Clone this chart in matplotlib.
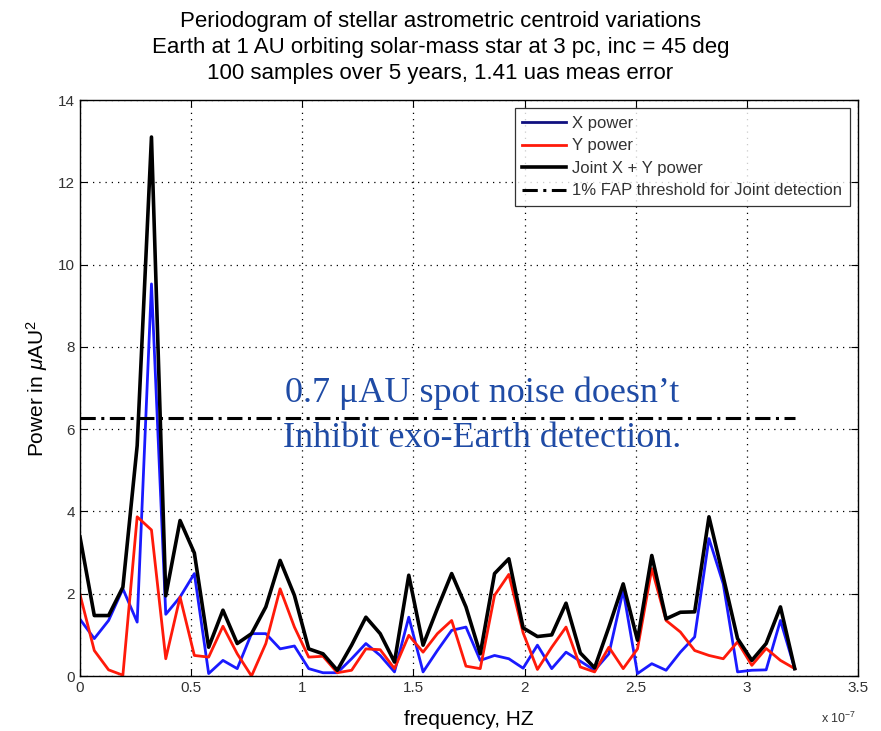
import numpy as np
import matplotlib
matplotlib.use('Agg')
import matplotlib.pyplot as plt

plt.rcParams['font.family'] = ['Liberation Sans', 'DejaVu Sans']
plt.rcParams['mathtext.fontset'] = 'custom'
plt.rcParams['mathtext.rm'] = 'Liberation Sans'
plt.rcParams['mathtext.it'] = 'Liberation Sans:italic'

# frequency grid, units of 1e-7 Hz (51 bins)
df = 0.0643
freq = np.arange(51) * df

x_power = [1.38, 0.91, 1.35, 2.12, 1.31, 9.53, 1.50, 1.92, 2.49, 0.06,
           0.38, 0.18, 1.03, 1.03, 0.66, 0.73, 0.18, 0.08, 0.08, 0.42,
           0.79, 0.50, 0.10, 1.43, 0.10, 0.62, 1.11, 1.19, 0.38, 0.50,
           0.42, 0.19, 0.75, 0.18, 0.58, 0.36, 0.14, 0.54, 2.08, 0.06,
           0.30, 0.14, 0.58, 0.95, 3.34, 2.24, 0.10, 0.14, 0.15, 1.35,
           0.18]
y_power = [1.98, 0.62, 0.15, 0.02, 3.87, 3.55, 0.42, 1.92, 0.50, 0.46,
           1.21, 0.54, 0.00, 0.79, 2.12, 1.19, 0.46, 0.48, 0.08, 0.14,
           0.66, 0.64, 0.18, 0.99, 0.58, 1.03, 1.35, 0.24, 0.18, 1.96,
           2.47, 1.05, 0.16, 0.70, 1.19, 0.22, 0.10, 0.70, 0.18, 0.66,
           2.61, 1.35, 1.07, 0.62, 0.50, 0.42, 0.83, 0.26, 0.67, 0.38,
           0.18]
joint_power = [3.38, 1.47, 1.47, 2.16, 5.60, 13.10, 1.95, 3.78, 2.99, 0.70,
               1.60, 0.79, 1.03, 1.68, 2.81, 1.96, 0.66, 0.54, 0.14, 0.75,
               1.43, 1.03, 0.34, 2.45, 0.75, 1.64, 2.49, 1.68, 0.54, 2.49,
               2.85, 1.17, 0.96, 1.00, 1.77, 0.56, 0.20, 1.19, 2.24, 0.87,
               2.93, 1.39, 1.55, 1.56, 3.87, 2.41, 0.91, 0.38, 0.79, 1.68,
               0.18]
fap_threshold = 6.27

fig = plt.figure(figsize=(8.81, 7.31), dpi=100)
ax = fig.add_axes([0.0908, 0.0752, 0.8832, 0.7880])

ax.plot(freq, x_power, color='#1a1aff', lw=2.0, label='X power')
ax.plot(freq, y_power, color='#ff1a0a', lw=2.0, label='Y power')
ax.plot(freq, joint_power, color='black', lw=2.6, label='Joint X + Y power')
ax.plot([freq[0], freq[-1]], [fap_threshold, fap_threshold], color='black',
        lw=2.2, ls=(0, (5, 1.8, 1, 1.8)), label='1% FAP threshold for Joint detection')

ax.set_xlim(0, 3.5)
ax.set_ylim(0, 14)
ax.set_xticks(np.arange(0, 3.51, 0.5))
ax.set_xticklabels(['0', '0.5', '1', '1.5', '2', '2.5', '3', '3.5'])
ax.set_yticks(np.arange(0, 15, 2))
ax.grid(True, ls=(0, (1, 4)), color='black', lw=0.9)
ax.tick_params(direction='in', top=True, right=True, labelsize=11,
               labelcolor='#333333', length=5)
for s in ax.spines.values():
    s.set_linewidth(1.0)

ax.set_xlabel('frequency, HZ', fontsize=15, labelpad=11)
ax.set_ylabel(r'Power in $\mu$AU$^2$', fontsize=15, labelpad=6)
ax.text(0.975, -0.073, r'x 10$^{-7}$', transform=ax.transAxes, fontsize=9,
        ha='center', va='center', color='#333333')

fig.text(0.5, 0.985, 'Periodogram of stellar astrometric centroid variations\n'
         'Earth at 1 AU orbiting solar-mass star at 3 pc, inc = 45 deg\n'
         '100 samples over 5 years, 1.41 uas meas error',
         ha='center', va='top', fontsize=16, linespacing=1.3)

ax.text(0.517, 0.452, '0.7 \u03bcAU spot noise doesn\u2019t\nInhibit exo-Earth detection.',
        transform=ax.transAxes, ha='center', va='center', fontsize=26,
        family=['Liberation Serif', 'DejaVu Serif'], color='#1f4ba5',
        linespacing=1.5)

leg = ax.legend(loc='upper right', fontsize=12, frameon=True, fancybox=False,
                edgecolor='black', borderaxespad=0.5, handlelength=2.6,
                handletextpad=0.4, labelspacing=0.45, borderpad=0.45)
leg.get_frame().set_linewidth(0.9)
leg.get_lines()[0].set_color('#101080')
for t in leg.get_texts():
    t.set_color('#333333')

fig.savefig('out.png', dpi=100)
